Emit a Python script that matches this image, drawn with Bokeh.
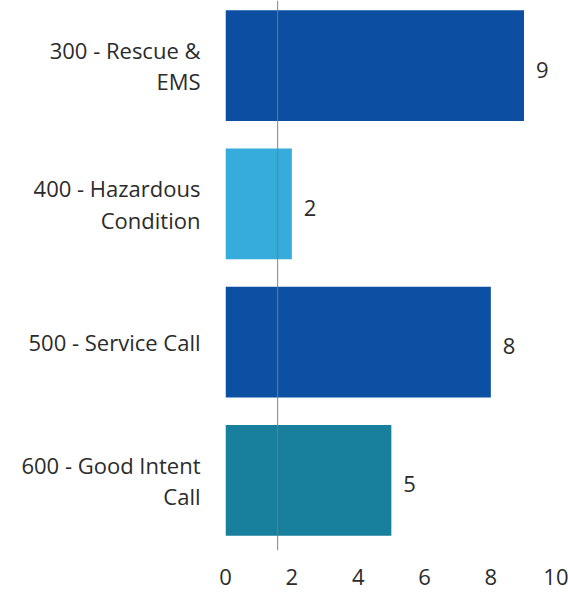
from bokeh.plotting import figure
from bokeh.models import Range1d, FixedTicker, ColumnDataSource, Span
from bokeh.core.properties import value
from bokeh.embed import file_html
from bokeh.resources import INLINE

categories = ["300 - Rescue &\nEMS", "400 - Hazardous\nCondition", "500 - Service Call", "600 - Good Intent\nCall"]
counts = [9, 2, 8, 5]
bar_colors = ["#0B4EA2", "#36ACDC", "#0C50A4", "#187F9C"]
x_ticks = [0, 2, 4, 6, 8, 10]
crease_x = 1.57  # faint vertical line visible in the scanned source

FONT = "Open Sans"
TXT = "#2b2b2b"
FS = "22px"

pos = list(range(len(categories)))
src = ColumnDataSource(dict(y=pos, right=counts, color=bar_colors,
                            label=[str(c) for c in counts]))

p = figure(width=568, height=595, output_backend="svg", toolbar_location=None,
           x_range=Range1d(0, 10.1), y_range=Range1d(3.507, -0.471),
           min_border_left=225, min_border_right=8, min_border_top=0, min_border_bottom=45)
p.outline_line_color = None
p.grid.visible = False

p.hbar(y="y", left=0, right="right", height=0.8, color="color", source=src, line_color=None)
p.text(x="right", y="y", text="label", source=src, x_offset=12, y_offset=4, text_align="left",
       text_baseline="middle", text_font=value(FONT), text_font_size=FS, text_color=TXT)

p.add_layout(Span(location=crease_x, dimension="height", line_color="#7a7a7a", line_width=1.2, line_alpha=0.8))

xa = p.xaxis[0]
xa.ticker = FixedTicker(ticks=x_ticks)
xa.axis_line_color = None
xa.major_tick_line_color = None
xa.minor_tick_line_color = None
xa.major_tick_out = 0
xa.major_tick_in = 0
xa.major_label_standoff = 18
xa.major_label_text_font = FONT
xa.major_label_text_font_size = FS
xa.major_label_text_color = TXT

ya = p.yaxis[0]
ya.ticker = FixedTicker(ticks=pos)
ya.major_label_overrides = {i: c for i, c in enumerate(categories)}
ya.axis_line_color = None
ya.major_tick_line_color = None
ya.minor_tick_line_color = None
ya.major_tick_out = 0
ya.major_tick_in = 0
ya.major_label_standoff = 25
ya.major_label_text_font = FONT
ya.major_label_text_font_size = FS
ya.major_label_text_color = TXT
ya.major_label_text_line_height = 1.05

open("out.html", "w").write(file_html(p, INLINE))
